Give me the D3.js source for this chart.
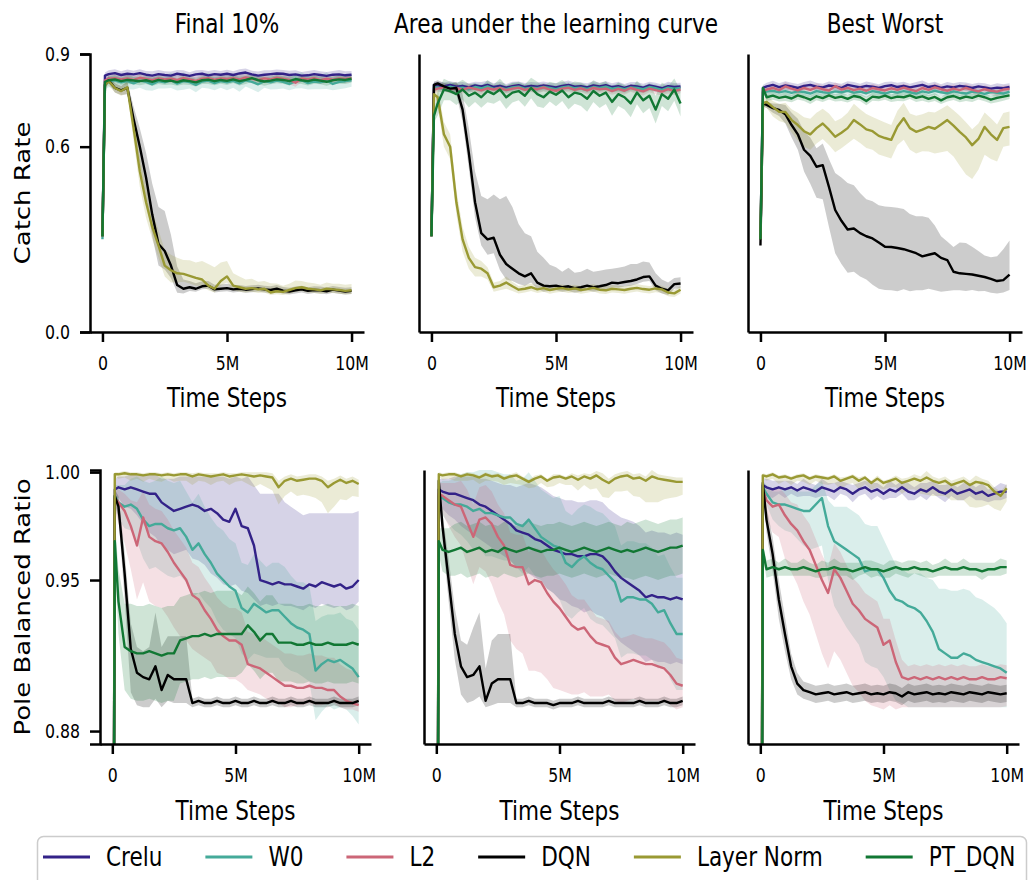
<!DOCTYPE html>
<html>
<head>
<meta charset="utf-8">
<script src="https://cdn.jsdelivr.net/npm/d3@7"></script>
<style>
  body { margin: 0; background: #fff; }
  svg { display: block; }
  text { font-family: "DejaVu Sans", sans-serif; fill: #000; }
</style>
</head>
<body>
<div id="chart"></div>
<script>
// time steps in millions (shared x grid)
const steps = [0, 0.1,
  0.25, 0.5, 0.75, 1, 1.25, 1.5, 1.75, 2, 2.25, 2.5,
  2.75, 3, 3.25, 3.5, 3.75, 4, 4.25, 4.5, 4.75, 5,
  5.25, 5.5, 5.75, 6, 6.25, 6.5, 6.75, 7, 7.25, 7.5,
  7.75, 8, 8.25, 8.5, 8.75, 9, 9.25, 9.5, 9.75, 10];

const methods = ["Crelu", "W0", "L2", "DQN", "Layer Norm", "PT_DQN"];
const columnTitles = ["Final 10%", "Area under the learning curve", "Best Worst"];
const metricLabels = ["Catch Rate", "Pole Balanced Ratio"];
const catchTicks = [0, 0.6, 0.9];
const poleTicks = [0.88, 0.95, 1.0];
const stepTicks = [0, 5, 10];
const stepTickLabels = ["0", "5M", "10M"];

// ---- Catch Rate, Final 10% ----
const catchFinalCrelu = [0.31, 0.83,
  0.835,0.838,0.832,0.836,0.834,0.838,0.833,0.830,0.835,0.832,
  0.830,0.836,0.833,0.829,0.834,0.836,0.831,0.835,0.833,0.836,
  0.832,0.837,0.840,0.834,0.830,0.833,0.835,0.837,0.836,0.832,
  0.834,0.830,0.831,0.835,0.832,0.829,0.833,0.834,0.831,0.833];
const catchFinalW0 = [0.30, 0.80,
  0.812,0.815,0.808,0.812,0.805,0.814,0.810,0.802,0.812,0.808,
  0.815,0.804,0.812,0.809,0.800,0.811,0.814,0.806,0.812,0.808,
  0.813,0.805,0.815,0.810,0.802,0.812,0.808,0.814,0.810,0.803,
  0.812,0.815,0.806,0.811,0.808,0.814,0.803,0.810,0.812,0.815];
const catchFinalL2 = [0.31, 0.815,
  0.820,0.822,0.818,0.821,0.816,0.823,0.819,0.815,0.821,0.818,
  0.820,0.816,0.822,0.818,0.813,0.820,0.822,0.817,0.821,0.819,
  0.822,0.818,0.824,0.820,0.816,0.821,0.818,0.823,0.820,0.816,
  0.807,0.821,0.818,0.822,0.815,0.820,0.817,0.821,0.819,0.822];
const catchFinalDqn = [0.31, 0.80,
  0.815,0.790,0.782,0.790,0.690,0.600,0.500,0.380,0.285,0.262,
  0.215,0.152,0.140,0.145,0.140,0.148,0.150,0.138,0.140,0.142,
  0.138,0.140,0.137,0.139,0.141,0.138,0.136,0.140,0.134,0.131,
  0.135,0.138,0.133,0.136,0.135,0.132,0.137,0.134,0.131,0.133];
const catchFinalLn = [0.31, 0.80,
  0.812,0.790,0.780,0.792,0.660,0.520,0.420,0.340,0.280,0.215,
  0.200,0.190,0.188,0.182,0.175,0.170,0.150,0.140,0.165,0.180,
  0.150,0.145,0.140,0.142,0.138,0.140,0.128,0.132,0.130,0.136,
  0.142,0.145,0.140,0.138,0.135,0.140,0.138,0.136,0.133,0.135];
const catchFinalPt = [0.31, 0.81,
  0.815,0.818,0.812,0.816,0.814,0.812,0.815,0.810,0.816,0.812,
  0.814,0.809,0.815,0.812,0.808,0.815,0.817,0.812,0.816,0.813,
  0.818,0.812,0.816,0.822,0.815,0.811,0.814,0.818,0.816,0.812,
  0.819,0.815,0.812,0.817,0.814,0.810,0.815,0.818,0.816,0.820];

// ---- Catch Rate, Area under the learning curve ----
const catchAucCrelu = [0.31, 0.80,
  0.798,0.795,0.800,0.794,0.797,0.792,0.798,0.795,0.800,0.793,
  0.797,0.791,0.796,0.799,0.793,0.797,0.794,0.798,0.795,0.792,
  0.797,0.800,0.794,0.796,0.792,0.798,0.795,0.799,0.793,0.796,
  0.790,0.797,0.795,0.791,0.798,0.794,0.789,0.796,0.793,0.795];
const catchAucW0 = [0.31, 0.79,
  0.792,0.788,0.794,0.789,0.791,0.786,0.793,0.789,0.795,0.787,
  0.791,0.786,0.792,0.794,0.788,0.791,0.789,0.793,0.790,0.786,
  0.792,0.795,0.789,0.791,0.787,0.793,0.790,0.794,0.788,0.791,
  0.786,0.792,0.790,0.786,0.793,0.789,0.784,0.791,0.788,0.790];
const catchAucL2 = [0.31, 0.785,
  0.788,0.792,0.786,0.790,0.784,0.791,0.787,0.782,0.789,0.785,
  0.790,0.783,0.788,0.791,0.784,0.789,0.786,0.792,0.785,0.781,
  0.788,0.791,0.784,0.789,0.782,0.790,0.786,0.788,0.780,0.787,
  0.781,0.790,0.784,0.779,0.788,0.783,0.778,0.786,0.780,0.785];
const catchAucDqn = [0.31, 0.80,
  0.805,0.795,0.788,0.790,0.720,0.580,0.420,0.320,0.300,0.305,
  0.250,0.220,0.205,0.190,0.180,0.190,0.160,0.150,0.148,0.150,
  0.145,0.148,0.142,0.145,0.150,0.145,0.148,0.152,0.160,0.158,
  0.162,0.165,0.170,0.178,0.180,0.150,0.140,0.135,0.155,0.157];
const catchAucLn = [0.31, 0.77,
  0.760,0.640,0.600,0.420,0.300,0.240,0.210,0.205,0.190,0.145,
  0.150,0.160,0.148,0.137,0.140,0.145,0.138,0.142,0.136,0.140,
  0.142,0.138,0.141,0.136,0.139,0.143,0.137,0.135,0.140,0.138,
  0.136,0.140,0.143,0.139,0.137,0.141,0.138,0.128,0.125,0.137];
const catchAucPt = [0.31, 0.70,
  0.740,0.785,0.780,0.770,0.785,0.765,0.775,0.760,0.780,0.770,
  0.785,0.760,0.775,0.780,0.765,0.790,0.770,0.760,0.778,0.768,
  0.782,0.760,0.775,0.770,0.755,0.780,0.765,0.775,0.745,0.770,
  0.760,0.740,0.775,0.750,0.765,0.720,0.770,0.755,0.785,0.740];

// ---- Catch Rate, Best Worst ----
const catchBestCrelu = [0.30, 0.79,
  0.795,0.800,0.793,0.798,0.795,0.790,0.797,0.800,0.794,0.792,
  0.798,0.795,0.790,0.800,0.796,0.792,0.797,0.794,0.790,0.796,
  0.799,0.793,0.797,0.792,0.796,0.800,0.793,0.797,0.790,0.795,
  0.792,0.797,0.794,0.790,0.795,0.792,0.788,0.791,0.789,0.793];
const catchBestW0 = [0.30, 0.775,
  0.778,0.781,0.776,0.780,0.774,0.779,0.777,0.772,0.780,0.776,
  0.774,0.779,0.776,0.781,0.775,0.778,0.773,0.780,0.776,0.772,
  0.778,0.775,0.780,0.776,0.772,0.779,0.775,0.781,0.776,0.773,
  0.779,0.775,0.772,0.778,0.776,0.771,0.777,0.774,0.772,0.778];
const catchBestL2 = [0.30, 0.78,
  0.785,0.790,0.783,0.795,0.788,0.782,0.790,0.784,0.792,0.786,
  0.782,0.796,0.785,0.790,0.783,0.788,0.781,0.790,0.786,0.782,
  0.789,0.784,0.791,0.785,0.780,0.790,0.784,0.792,0.786,0.781,
  0.788,0.783,0.790,0.784,0.779,0.786,0.781,0.778,0.785,0.787];
const catchBestDqn = [0.28, 0.74,
  0.735,0.725,0.719,0.705,0.670,0.640,0.590,0.570,0.535,0.540,
  0.470,0.395,0.360,0.332,0.335,0.320,0.310,0.303,0.290,0.276,
  0.275,0.272,0.268,0.262,0.255,0.245,0.250,0.255,0.240,0.233,
  0.195,0.190,0.188,0.186,0.182,0.178,0.172,0.165,0.168,0.186];
const catchBestLn = [0.30, 0.74,
  0.745,0.728,0.713,0.712,0.686,0.670,0.650,0.640,0.660,0.675,
  0.655,0.632,0.645,0.660,0.686,0.672,0.656,0.650,0.635,0.628,
  0.622,0.665,0.692,0.660,0.648,0.655,0.664,0.658,0.672,0.686,
  0.668,0.648,0.630,0.605,0.625,0.664,0.640,0.622,0.660,0.664];
const catchBestPt = [0.30, 0.79,
  0.760,0.765,0.758,0.762,0.756,0.766,0.760,0.752,0.763,0.757,
  0.766,0.758,0.762,0.755,0.764,0.760,0.748,0.762,0.759,0.765,
  0.757,0.762,0.760,0.766,0.758,0.763,0.755,0.761,0.750,0.760,
  0.764,0.756,0.762,0.758,0.765,0.760,0.752,0.758,0.762,0.766];

// ---- Catch Rate bands (distance below / above the mean) ----
const catchNarrowBand = [0.005, 0.01,
  0.012,0.013,0.012,0.014,0.012,0.013,0.012,0.014,0.013,0.012,
  0.013,0.012,0.014,0.012,0.013,0.012,0.014,0.013,0.012,0.013,
  0.012,0.014,0.013,0.012,0.013,0.014,0.012,0.013,0.012,0.014,
  0.013,0.012,0.014,0.013,0.012,0.013,0.012,0.014,0.013,0.012];
const catchWideBand = [0.005, 0.015,
  0.020,0.024,0.021,0.026,0.020,0.023,0.027,0.021,0.024,0.020,
  0.025,0.022,0.028,0.021,0.024,0.020,0.026,0.023,0.021,0.025,
  0.022,0.027,0.020,0.024,0.026,0.021,0.023,0.028,0.022,0.020,
  0.024,0.026,0.021,0.025,0.022,0.027,0.020,0.024,0.023,0.021];
const catchPtBand = [0.005, 0.02,
  0.040,0.035,0.030,0.035,0.032,0.038,0.030,0.034,0.036,0.031,
  0.035,0.038,0.032,0.030,0.036,0.033,0.040,0.035,0.032,0.037,
  0.034,0.040,0.036,0.038,0.042,0.035,0.040,0.037,0.045,0.038,
  0.040,0.045,0.038,0.042,0.040,0.045,0.038,0.040,0.036,0.042];
const catchFinalDqnDn = [0.005, 0.01,
  0.010,0.015,0.015,0.020,0.040,0.060,0.070,0.070,0.070,0.060,
  0.040,0.025,0.015,0.012,0.010,0.010,0.010,0.010,0.010,0.010,
  0.010,0.010,0.010,0.010,0.010,0.010,0.010,0.010,0.010,0.010,
  0.010,0.010,0.010,0.010,0.010,0.010,0.010,0.010,0.010,0.010];
const catchFinalDqnUp = [0.005, 0.01,
  0.012,0.015,0.015,0.020,0.040,0.060,0.080,0.100,0.120,0.130,
  0.100,0.060,0.030,0.020,0.018,0.016,0.015,0.015,0.014,0.014,
  0.013,0.012,0.012,0.012,0.012,0.012,0.012,0.012,0.012,0.012,
  0.012,0.012,0.012,0.012,0.012,0.012,0.012,0.012,0.012,0.012];
const catchFinalLnDn = [0.005, 0.01,
  0.015,0.015,0.015,0.020,0.040,0.050,0.050,0.040,0.040,0.035,
  0.040,0.030,0.025,0.025,0.025,0.020,0.015,0.012,0.015,0.020,
  0.015,0.015,0.012,0.012,0.012,0.012,0.008,0.010,0.010,0.012,
  0.012,0.012,0.012,0.012,0.012,0.012,0.012,0.012,0.012,0.012];
const catchFinalLnUp = [0.005, 0.01,
  0.015,0.015,0.015,0.020,0.040,0.050,0.050,0.050,0.050,0.050,
  0.050,0.050,0.045,0.050,0.050,0.060,0.070,0.070,0.060,0.050,
  0.040,0.035,0.030,0.030,0.025,0.025,0.030,0.025,0.020,0.020,
  0.025,0.020,0.020,0.020,0.018,0.020,0.018,0.020,0.020,0.020];
const catchAucDqnDn = [0.005, 0.01,
  0.010,0.012,0.015,0.020,0.040,0.050,0.050,0.040,0.050,0.050,
  0.050,0.050,0.040,0.035,0.030,0.030,0.020,0.020,0.015,0.015,
  0.015,0.015,0.015,0.015,0.015,0.015,0.015,0.015,0.015,0.015,
  0.015,0.015,0.015,0.015,0.015,0.015,0.015,0.015,0.015,0.015];
const catchAucDqnUp = [0.005, 0.01,
  0.010,0.012,0.015,0.020,0.050,0.080,0.100,0.120,0.130,0.140,
  0.180,0.220,0.200,0.160,0.140,0.120,0.100,0.090,0.070,0.060,
  0.050,0.060,0.050,0.050,0.055,0.050,0.050,0.050,0.045,0.050,
  0.050,0.055,0.050,0.050,0.045,0.040,0.030,0.025,0.020,0.020];
const catchAucLnBand = [0.005, 0.01,
  0.030,0.040,0.040,0.040,0.040,0.035,0.030,0.025,0.020,0.015,
  0.015,0.020,0.015,0.012,0.012,0.012,0.012,0.012,0.012,0.012,
  0.012,0.012,0.012,0.012,0.012,0.012,0.012,0.012,0.012,0.012,
  0.012,0.012,0.012,0.012,0.012,0.012,0.012,0.012,0.012,0.012];
const catchBestLnDn = [0.005, 0.01,
  0.020,0.030,0.030,0.035,0.040,0.050,0.050,0.050,0.050,0.050,
  0.050,0.050,0.050,0.050,0.060,0.060,0.060,0.060,0.060,0.060,
  0.060,0.060,0.070,0.070,0.070,0.070,0.080,0.080,0.090,0.100,
  0.100,0.110,0.120,0.110,0.100,0.090,0.080,0.070,0.060,0.060];
const catchBestLnUp = [0.005, 0.01,
  0.020,0.020,0.025,0.030,0.035,0.040,0.045,0.050,0.050,0.048,
  0.052,0.050,0.047,0.050,0.053,0.049,0.050,0.046,0.052,0.050,
  0.048,0.051,0.050,0.047,0.052,0.050,0.049,0.053,0.050,0.048,
  0.050,0.052,0.049,0.051,0.050,0.047,0.052,0.050,0.049,0.050];
const catchBestDqnDn = [0.005, 0.01,
  0.010,0.015,0.020,0.030,0.040,0.050,0.070,0.090,0.100,0.110,
  0.130,0.140,0.140,0.140,0.140,0.140,0.140,0.150,0.150,0.140,
  0.140,0.140,0.130,0.130,0.120,0.110,0.110,0.120,0.110,0.100,
  0.060,0.055,0.055,0.050,0.050,0.045,0.045,0.040,0.040,0.050];
const catchBestDqnUp = [0.005, 0.01,
  0.010,0.015,0.020,0.030,0.040,0.050,0.060,0.060,0.060,0.070,
  0.090,0.120,0.140,0.150,0.140,0.130,0.120,0.120,0.120,0.130,
  0.130,0.130,0.130,0.120,0.120,0.130,0.120,0.090,0.070,0.060,
  0.080,0.100,0.100,0.090,0.080,0.070,0.070,0.080,0.100,0.110];

// ---- Pole Balanced Ratio, Final 10% ----
const poleFinalCrelu = [0.6, 0.992,
  0.993,0.992,0.993,0.992,0.991,0.990,0.990,0.986,0.984,0.982,
  0.983,0.984,0.985,0.984,0.982,0.983,0.981,0.978,0.977,0.983,
  0.975,0.974,0.966,0.950,0.949,0.948,0.949,0.948,0.948,0.947,
  0.946,0.948,0.947,0.949,0.948,0.947,0.948,0.946,0.947,0.950];
const poleFinalW0 = [0.6, 0.989,
  0.986,0.984,0.985,0.983,0.978,0.975,0.976,0.976,0.974,0.973,
  0.974,0.970,0.964,0.967,0.962,0.958,0.953,0.950,0.947,0.945,
  0.937,0.935,0.939,0.937,0.935,0.936,0.936,0.933,0.930,0.928,
  0.927,0.925,0.908,0.911,0.913,0.912,0.913,0.911,0.909,0.905];
const poleFinalL2 = [0.6, 0.988,
  0.986,0.982,0.975,0.966,0.979,0.970,0.968,0.967,0.963,0.958,
  0.954,0.950,0.943,0.941,0.936,0.932,0.927,0.924,0.922,0.922,
  0.920,0.911,0.910,0.909,0.907,0.905,0.903,0.901,0.901,0.900,
  0.900,0.901,0.900,0.900,0.899,0.899,0.896,0.894,0.893,0.892];
const poleFinalDqn = [0.6, 0.989,
  0.984,0.953,0.918,0.907,0.905,0.904,0.910,0.899,0.906,0.904,
  0.904,0.904,0.893,0.894,0.893,0.893,0.894,0.893,0.893,0.894,
  0.893,0.893,0.894,0.893,0.893,0.894,0.893,0.893,0.894,0.893,
  0.893,0.894,0.893,0.893,0.893,0.894,0.893,0.893,0.893,0.894];
const poleFinalLn = [0.6, 0.999,
  0.999,0.9995,0.999,0.999,0.9985,0.999,0.999,0.9985,0.999,0.9985,
  0.999,0.999,0.998,0.999,0.9985,0.998,0.9985,0.999,0.998,0.9985,
  0.999,0.9985,0.998,0.9985,0.998,0.9975,0.993,0.996,0.997,0.996,
  0.9965,0.997,0.997,0.996,0.993,0.995,0.9965,0.995,0.996,0.9945];
const poleFinalPt = [0.6, 0.968,
  0.940,0.919,0.917,0.916,0.916,0.917,0.916,0.915,0.916,0.916,
  0.922,0.923,0.924,0.924,0.925,0.924,0.925,0.925,0.925,0.925,
  0.925,0.929,0.926,0.922,0.925,0.925,0.921,0.921,0.921,0.920,
  0.920,0.921,0.920,0.920,0.921,0.920,0.920,0.920,0.921,0.920];

// ---- Pole Balanced Ratio, Area under the learning curve ----
const poleAucCrelu = [0.6, 0.992,
  0.991,0.990,0.990,0.989,0.988,0.987,0.985,0.984,0.982,0.980,
  0.978,0.976,0.973,0.972,0.971,0.969,0.968,0.966,0.964,0.963,
  0.962,0.962,0.961,0.961,0.962,0.962,0.961,0.958,0.954,0.951,
  0.949,0.947,0.945,0.942,0.943,0.942,0.942,0.941,0.942,0.941];
const poleAucW0 = [0.6, 0.989,
  0.988,0.986,0.985,0.985,0.984,0.982,0.983,0.981,0.981,0.980,
  0.979,0.979,0.976,0.975,0.978,0.974,0.970,0.968,0.966,0.965,
  0.958,0.956,0.959,0.961,0.958,0.956,0.955,0.952,0.949,0.940,
  0.942,0.942,0.941,0.941,0.939,0.935,0.936,0.930,0.925,0.925];
const poleAucL2 = [0.6, 0.990,
  0.989,0.987,0.985,0.984,0.977,0.970,0.978,0.979,0.976,0.970,
  0.966,0.957,0.956,0.956,0.948,0.950,0.949,0.944,0.940,0.937,
  0.933,0.929,0.927,0.928,0.924,0.921,0.920,0.919,0.914,0.911,
  0.912,0.913,0.912,0.911,0.911,0.910,0.909,0.906,0.902,0.901];
const poleAucDqn = [0.6, 0.996,
  0.975,0.950,0.925,0.910,0.905,0.906,0.910,0.894,0.902,0.904,
  0.904,0.904,0.893,0.893,0.894,0.893,0.893,0.893,0.892,0.893,
  0.893,0.893,0.894,0.893,0.893,0.893,0.893,0.894,0.893,0.893,
  0.893,0.893,0.894,0.893,0.893,0.893,0.894,0.893,0.893,0.894];
const poleAucLn = [0.6, 0.999,
  0.9985,0.999,0.999,0.998,0.999,0.9985,0.9975,0.999,0.998,0.9985,
  0.997,0.998,0.9985,0.997,0.9955,0.997,0.998,0.996,0.9975,0.998,
  0.997,0.998,0.9965,0.998,0.997,0.9985,0.9965,0.995,0.997,0.998,
  0.9985,0.997,0.9975,0.996,0.998,0.997,0.9965,0.996,0.9955,0.9955];
const poleAucPt = [0.6, 0.968,
  0.964,0.963,0.964,0.965,0.963,0.964,0.965,0.963,0.964,0.963,
  0.965,0.964,0.963,0.964,0.965,0.964,0.963,0.964,0.964,0.965,
  0.964,0.963,0.964,0.965,0.964,0.963,0.964,0.965,0.964,0.963,
  0.964,0.963,0.964,0.965,0.964,0.963,0.964,0.965,0.965,0.966];

// ---- Pole Balanced Ratio, Best Worst ----
const poleBestCrelu = [0.6, 0.994,
  0.993,0.992,0.993,0.992,0.993,0.9915,0.993,0.992,0.991,0.993,
  0.992,0.991,0.993,0.992,0.990,0.992,0.993,0.991,0.992,0.990,
  0.992,0.991,0.993,0.991,0.990,0.992,0.991,0.993,0.991,0.990,
  0.992,0.990,0.991,0.992,0.990,0.991,0.989,0.990,0.991,0.991];
const poleBestW0 = [0.6, 0.993,
  0.990,0.986,0.985,0.985,0.984,0.983,0.982,0.982,0.985,0.988,
  0.975,0.968,0.966,0.964,0.962,0.960,0.954,0.955,0.955,0.951,
  0.945,0.941,0.940,0.938,0.937,0.935,0.931,0.926,0.918,0.916,
  0.914,0.914,0.916,0.915,0.913,0.912,0.911,0.910,0.909,0.907];
const poleBestL2 = [0.6, 0.992,
  0.987,0.984,0.985,0.980,0.976,0.973,0.968,0.964,0.957,0.950,
  0.944,0.955,0.951,0.945,0.939,0.936,0.932,0.930,0.928,0.920,
  0.922,0.912,0.905,0.904,0.905,0.904,0.905,0.904,0.905,0.904,
  0.905,0.904,0.905,0.904,0.904,0.905,0.904,0.904,0.905,0.9045];
const poleBestDqn = [0.6, 0.995,
  0.978,0.962,0.941,0.925,0.910,0.902,0.899,0.898,0.897,0.8975,
  0.898,0.897,0.8975,0.898,0.897,0.8975,0.898,0.897,0.8975,0.897,
  0.898,0.8975,0.896,0.898,0.897,0.8975,0.898,0.897,0.8975,0.897,
  0.898,0.8975,0.897,0.898,0.8975,0.897,0.898,0.8975,0.897,0.8975];
const poleBestLn = [0.6, 0.9985,
  0.998,0.999,0.9975,0.998,0.997,0.998,0.9985,0.997,0.998,0.9975,
  0.997,0.998,0.996,0.997,0.998,0.996,0.9975,0.995,0.997,0.995,
  0.996,0.997,0.995,0.996,0.997,0.996,0.9975,0.996,0.995,0.996,
  0.994,0.995,0.996,0.994,0.9955,0.995,0.994,0.991,0.989,0.9925];
const poleBestPt = [0.5, 0.964,
  0.955,0.956,0.955,0.956,0.955,0.955,0.956,0.955,0.954,0.955,
  0.955,0.956,0.955,0.955,0.954,0.955,0.956,0.955,0.955,0.954,
  0.955,0.956,0.955,0.955,0.956,0.955,0.955,0.954,0.955,0.956,
  0.955,0.955,0.956,0.955,0.955,0.954,0.955,0.955,0.956,0.956];

// ---- Pole Balanced Ratio bands (distance below / above the mean) ----
const poleTightBand = [0.005, 0.003,
  0.004,0.004,0.003,0.004,0.003,0.003,0.004,0.003,0.003,0.004,
  0.003,0.004,0.003,0.003,0.004,0.003,0.003,0.004,0.003,0.003,
  0.004,0.003,0.003,0.004,0.003,0.003,0.004,0.003,0.003,0.004,
  0.003,0.003,0.004,0.003,0.003,0.004,0.003,0.003,0.004,0.003];
const poleLnDn = [0.005, 0.001,
  0.002,0.002,0.003,0.002,0.003,0.002,0.003,0.003,0.002,0.003,
  0.003,0.003,0.004,0.003,0.003,0.004,0.003,0.003,0.004,0.003,
  0.003,0.004,0.005,0.004,0.005,0.006,0.008,0.007,0.006,0.007,
  0.007,0.008,0.009,0.010,0.012,0.011,0.009,0.008,0.007,0.006];
const poleLnUp = [0.001, 0.001,
  0.001,0.001,0.001,0.001,0.001,0.001,0.001,0.001,0.001,0.001,
  0.001,0.001,0.0015,0.001,0.001,0.0015,0.001,0.001,0.0015,0.001,
  0.001,0.0015,0.002,0.0015,0.002,0.002,0.003,0.002,0.002,0.002,
  0.002,0.002,0.002,0.002,0.003,0.002,0.002,0.002,0.002,0.002];
const poleFinalCreluDn = [0.05, 0.005,
  0.005,0.008,0.010,0.012,0.015,0.018,0.020,0.020,0.020,0.020,
  0.020,0.020,0.025,0.025,0.025,0.030,0.030,0.030,0.030,0.035,
  0.030,0.030,0.025,0.012,0.010,0.010,0.010,0.010,0.010,0.010,
  0.010,0.010,0.010,0.010,0.010,0.010,0.010,0.010,0.010,0.010];
const poleFinalCreluUp = [0.005, 0.005,
  0.005,0.006,0.006,0.007,0.008,0.009,0.009,0.011,0.013,0.015,
  0.015,0.014,0.013,0.014,0.016,0.015,0.017,0.020,0.020,0.015,
  0.022,0.024,0.028,0.040,0.041,0.042,0.041,0.038,0.036,0.035,
  0.034,0.033,0.034,0.032,0.033,0.034,0.033,0.035,0.034,0.032];
const poleFinalW0Band = [0.005, 0.005,
  0.008,0.010,0.012,0.015,0.018,0.020,0.020,0.022,0.022,0.022,
  0.022,0.021,0.022,0.023,0.022,0.021,0.022,0.023,0.022,0.022,
  0.021,0.022,0.023,0.022,0.021,0.022,0.022,0.023,0.022,0.021,
  0.022,0.022,0.023,0.022,0.021,0.022,0.022,0.021,0.022,0.022];
const poleFinalL2Dn = [0.005, 0.005,
  0.010,0.015,0.020,0.025,0.030,0.030,0.030,0.030,0.030,0.030,
  0.030,0.028,0.025,0.025,0.022,0.020,0.020,0.018,0.018,0.018,
  0.018,0.012,0.012,0.012,0.012,0.012,0.010,0.010,0.010,0.008,
  0.008,0.008,0.008,0.008,0.006,0.006,0.005,0.004,0.003,0.003];
const poleFinalL2Up = [0.005, 0.005,
  0.006,0.008,0.012,0.020,0.012,0.015,0.015,0.015,0.015,0.015,
  0.015,0.015,0.015,0.015,0.015,0.015,0.015,0.015,0.015,0.015,
  0.015,0.015,0.015,0.015,0.015,0.015,0.015,0.015,0.015,0.015,
  0.015,0.015,0.015,0.015,0.015,0.015,0.015,0.015,0.015,0.015];
const poleFinalDqnDn = [0.005, 0.003,
  0.005,0.012,0.020,0.015,0.014,0.013,0.015,0.008,0.012,0.011,
  0.011,0.011,0.002,0.002,0.002,0.002,0.002,0.002,0.002,0.002,
  0.002,0.002,0.002,0.002,0.002,0.002,0.002,0.002,0.002,0.002,
  0.002,0.002,0.002,0.002,0.002,0.002,0.002,0.002,0.002,0.002];
const poleFinalDqnUp = [0.005, 0.003,
  0.005,0.010,0.012,0.012,0.012,0.015,0.025,0.020,0.018,0.020,
  0.020,0.020,0.002,0.002,0.002,0.002,0.002,0.002,0.002,0.002,
  0.002,0.002,0.002,0.002,0.002,0.002,0.002,0.002,0.002,0.002,
  0.002,0.002,0.002,0.002,0.002,0.002,0.002,0.002,0.002,0.002];
const poleFinalPtBand = [0.005, 0.01,
  0.015,0.020,0.022,0.022,0.022,0.022,0.022,0.022,0.022,0.022,
  0.020,0.020,0.020,0.020,0.020,0.020,0.020,0.020,0.020,0.020,
  0.018,0.018,0.018,0.018,0.018,0.018,0.018,0.018,0.018,0.018,
  0.018,0.018,0.018,0.018,0.018,0.018,0.018,0.018,0.018,0.018];
const poleAucCreluDn = [0.005, 0.005,
  0.008,0.010,0.012,0.014,0.015,0.016,0.016,0.017,0.017,0.017,
  0.017,0.017,0.017,0.017,0.018,0.018,0.018,0.020,0.020,0.022,
  0.022,0.024,0.024,0.026,0.026,0.028,0.028,0.028,0.030,0.030,
  0.030,0.030,0.030,0.030,0.030,0.030,0.030,0.030,0.030,0.030];
const poleAucCreluUp = [0.005, 0.005,
  0.006,0.007,0.008,0.009,0.010,0.011,0.012,0.013,0.014,0.015,
  0.016,0.018,0.020,0.022,0.024,0.025,0.025,0.025,0.025,0.025,
  0.025,0.025,0.025,0.025,0.025,0.025,0.025,0.025,0.027,0.028,
  0.029,0.030,0.030,0.030,0.030,0.030,0.030,0.030,0.030,0.030];
const poleAucW0Band = [0.005, 0.005,
  0.008,0.010,0.012,0.014,0.016,0.018,0.018,0.020,0.020,0.020,
  0.020,0.020,0.020,0.022,0.022,0.022,0.022,0.022,0.022,0.024,
  0.024,0.024,0.024,0.024,0.026,0.026,0.026,0.026,0.026,0.026,
  0.026,0.026,0.026,0.026,0.026,0.026,0.026,0.026,0.026,0.026];
const poleAucL2Dn = [0.005, 0.005,
  0.008,0.012,0.015,0.018,0.020,0.022,0.022,0.025,0.028,0.030,
  0.032,0.035,0.038,0.040,0.040,0.042,0.042,0.040,0.040,0.038,
  0.035,0.032,0.030,0.030,0.028,0.025,0.024,0.022,0.020,0.018,
  0.018,0.018,0.018,0.017,0.017,0.016,0.015,0.014,0.012,0.010];
const poleAucL2Up = [0.005, 0.005,
  0.006,0.008,0.010,0.012,0.015,0.015,0.015,0.015,0.015,0.015,
  0.015,0.015,0.015,0.015,0.015,0.015,0.015,0.015,0.015,0.015,
  0.015,0.014,0.014,0.013,0.013,0.012,0.012,0.012,0.012,0.012,
  0.012,0.012,0.012,0.012,0.012,0.012,0.012,0.012,0.012,0.012];
const poleAucDqnDn = [0.005, 0.003,
  0.006,0.010,0.012,0.013,0.012,0.012,0.014,0.003,0.010,0.011,
  0.011,0.011,0.002,0.002,0.002,0.002,0.002,0.002,0.002,0.002,
  0.002,0.002,0.002,0.002,0.002,0.002,0.002,0.002,0.002,0.002,
  0.002,0.002,0.002,0.002,0.002,0.002,0.002,0.002,0.002,0.002];
const poleAucDqnUp = [0.005, 0.003,
  0.006,0.010,0.012,0.012,0.015,0.022,0.025,0.015,0.020,0.021,
  0.021,0.021,0.002,0.002,0.002,0.002,0.002,0.002,0.002,0.002,
  0.002,0.002,0.002,0.002,0.002,0.002,0.002,0.002,0.002,0.002,
  0.002,0.002,0.002,0.002,0.002,0.002,0.002,0.002,0.002,0.002];
const poleAucPtBand = [0.005, 0.006,
  0.010,0.011,0.012,0.012,0.012,0.012,0.012,0.012,0.012,0.012,
  0.012,0.012,0.012,0.012,0.012,0.012,0.012,0.012,0.012,0.012,
  0.012,0.012,0.012,0.012,0.012,0.012,0.012,0.012,0.012,0.012,
  0.013,0.013,0.013,0.013,0.013,0.013,0.013,0.013,0.013,0.013];
const poleBestW0Dn = [0.005, 0.003,
  0.005,0.008,0.010,0.012,0.012,0.014,0.016,0.018,0.020,0.022,
  0.025,0.030,0.033,0.036,0.038,0.040,0.042,0.045,0.046,0.046,
  0.046,0.047,0.047,0.047,0.046,0.044,0.040,0.035,0.027,0.025,
  0.023,0.023,0.025,0.024,0.022,0.021,0.020,0.019,0.018,0.016];
const poleBestW0Up = [0.005, 0.003,
  0.004,0.005,0.006,0.007,0.008,0.008,0.009,0.009,0.009,0.008,
  0.012,0.016,0.018,0.020,0.020,0.020,0.022,0.020,0.020,0.018,
  0.018,0.016,0.015,0.015,0.016,0.018,0.020,0.024,0.028,0.030,
  0.031,0.031,0.030,0.030,0.029,0.029,0.028,0.027,0.025,0.023];
const poleBestL2Dn = [0.005, 0.003,
  0.008,0.012,0.015,0.020,0.022,0.025,0.028,0.030,0.032,0.034,
  0.035,0.038,0.038,0.038,0.038,0.038,0.038,0.038,0.037,0.030,
  0.030,0.022,0.014,0.013,0.014,0.013,0.014,0.013,0.014,0.013,
  0.014,0.013,0.014,0.013,0.013,0.014,0.013,0.013,0.014,0.013];
const poleBestL2Up = [0.005, 0.003,
  0.005,0.008,0.008,0.010,0.010,0.012,0.012,0.012,0.012,0.012,
  0.012,0.012,0.012,0.012,0.012,0.012,0.012,0.012,0.012,0.012,
  0.010,0.010,0.008,0.006,0.006,0.006,0.006,0.006,0.006,0.006,
  0.006,0.006,0.006,0.006,0.006,0.006,0.006,0.006,0.006,0.006];
const poleBestDqnBand = [0.005, 0.003,
  0.006,0.008,0.009,0.008,0.006,0.005,0.004,0.004,0.004,0.004,
  0.004,0.004,0.004,0.004,0.004,0.004,0.004,0.004,0.004,0.004,
  0.004,0.004,0.004,0.004,0.004,0.004,0.004,0.004,0.004,0.004,
  0.004,0.004,0.004,0.004,0.004,0.004,0.004,0.004,0.004,0.004];

const palette = ["#332288", "#44AA99", "#CC6677", "#000000", "#999933", "#117733"];

// [mean, below, above] for every method, by row (metric) and column (summary)
const panels = [
  [
    [[catchFinalCrelu, catchNarrowBand, catchNarrowBand],
     [catchFinalW0, catchWideBand, catchWideBand],
     [catchFinalL2, catchNarrowBand, catchNarrowBand],
     [catchFinalDqn, catchFinalDqnDn, catchFinalDqnUp],
     [catchFinalLn, catchFinalLnDn, catchFinalLnUp],
     [catchFinalPt, catchNarrowBand, catchNarrowBand]],
    [[catchAucCrelu, catchNarrowBand, catchNarrowBand],
     [catchAucW0, catchNarrowBand, catchNarrowBand],
     [catchAucL2, catchNarrowBand, catchNarrowBand],
     [catchAucDqn, catchAucDqnDn, catchAucDqnUp],
     [catchAucLn, catchAucLnBand, catchAucLnBand],
     [catchAucPt, catchPtBand, catchPtBand]],
    [[catchBestCrelu, catchNarrowBand, catchNarrowBand],
     [catchBestW0, catchNarrowBand, catchNarrowBand],
     [catchBestL2, catchNarrowBand, catchNarrowBand],
     [catchBestDqn, catchBestDqnDn, catchBestDqnUp],
     [catchBestLn, catchBestLnDn, catchBestLnUp],
     [catchBestPt, catchNarrowBand, catchNarrowBand]]
  ],
  [
    [[poleFinalCrelu, poleFinalCreluDn, poleFinalCreluUp],
     [poleFinalW0, poleFinalW0Band, poleFinalW0Band],
     [poleFinalL2, poleFinalL2Dn, poleFinalL2Up],
     [poleFinalDqn, poleFinalDqnDn, poleFinalDqnUp],
     [poleFinalLn, poleLnDn, poleLnUp],
     [poleFinalPt, poleFinalPtBand, poleFinalPtBand]],
    [[poleAucCrelu, poleAucCreluDn, poleAucCreluUp],
     [poleAucW0, poleAucW0Band, poleAucW0Band],
     [poleAucL2, poleAucL2Dn, poleAucL2Up],
     [poleAucDqn, poleAucDqnDn, poleAucDqnUp],
     [poleAucLn, poleLnDn, poleLnUp],
     [poleAucPt, poleAucPtBand, poleAucPtBand]],
    [[poleBestCrelu, poleTightBand, poleTightBand],
     [poleBestW0, poleBestW0Dn, poleBestW0Up],
     [poleBestL2, poleBestL2Dn, poleBestL2Up],
     [poleBestDqn, poleBestDqnBand, poleBestDqnBand],
     [poleBestLn, poleLnDn, poleLnUp],
     [poleBestPt, poleTightBand, poleTightBand]]
  ]
];

// layout
const W = 1029, H = 880;
const squeeze = 0.83; // text in the figure is horizontally compressed
const rowLayout = [
  {top: 54, bottom: 332, lefts: [90, 419, 748], width: 274, domain: [0, 0.9],
   ticks: catchTicks, fmt: d3.format(".1f"), xlabelY: 407},
  {top: 470, bottom: 744, lefts: [100, 424, 748], width: 271, domain: [0.874, 1.001],
   ticks: poleTicks, fmt: d3.format(".2f"), xlabelY: 820}
];

const svg = d3.select("#chart").append("svg")
  .attr("width", W).attr("height", H);

function label(parent, x, y, str, size, anchor, rotate) {
  return parent.append("text")
    .attr("transform", `translate(${x},${y}) scale(${squeeze},1)` + (rotate ? ` rotate(${rotate})` : ""))
    .attr("text-anchor", anchor)
    .attr("font-size", size)
    .text(str);
}

panels.forEach((row, r) => {
  const L = rowLayout[r];
  row.forEach((series, c) => {
    const left = L.lefts[c];
    const x = d3.scaleLinear().domain([-0.5, 10.5]).range([left, left + L.width]);
    const y = d3.scaleLinear().domain(L.domain).range([L.bottom, L.top]);

    const clipId = `clip-${r}-${c}`;
    svg.append("clipPath").attr("id", clipId)
      .append("rect")
      .attr("x", left).attr("y", L.top)
      .attr("width", L.width).attr("height", L.bottom - L.top);

    const plot = svg.append("g").attr("clip-path", `url(#${clipId})`);
    const rows = series.map(([mean, dn, up]) =>
      steps.map((s, i) => ({s, m: mean[i], lo: mean[i] - dn[i], hi: mean[i] + up[i]})));

    const area = d3.area().x(d => x(d.s)).y0(d => y(d.lo)).y1(d => y(d.hi));
    const line = d3.line().x(d => x(d.s)).y(d => y(d.m));

    // bands below, lines on top (like matplotlib zorder)
    plot.selectAll("path.band").data(rows).join("path")
      .attr("class", "band")
      .attr("d", area)
      .attr("fill", (d, k) => palette[k])
      .attr("fill-opacity", 0.2);
    plot.selectAll("path.mean").data(rows).join("path")
      .attr("class", "mean")
      .attr("d", line)
      .attr("fill", "none")
      .attr("stroke", (d, k) => palette[k])
      .attr("stroke-width", 2.4)
      .attr("stroke-linejoin", "round");

    // x axis
    const gx = svg.append("g")
      .attr("transform", `translate(0,${L.bottom})`)
      .call(d3.axisBottom(x).tickValues(stepTicks)
        .tickFormat((d, i) => stepTickLabels[i])
        .tickSize(10).tickPadding(15).tickSizeOuter(0));
    gx.selectAll("text").attr("font-size", 19).attr("transform", `scale(${squeeze},1)`)
      .style("font-family", '"DejaVu Sans", sans-serif');

    // y axis
    const yAxis = d3.axisLeft(y).tickSizeOuter(0);
    if (c === 0) {
      yAxis.tickValues(L.ticks).tickFormat(L.fmt).tickSize(10).tickPadding(10);
    } else {
      yAxis.tickValues([]);
    }
    const gy = svg.append("g")
      .attr("transform", `translate(${left},0)`)
      .call(yAxis);
    gy.selectAll("text").attr("font-size", 19)
      .attr("x", -20 / squeeze)
      .attr("transform", `scale(${squeeze},1)`)
      .style("font-family", '"DejaVu Sans", sans-serif');

    [gx, gy].forEach(g => {
      g.selectAll("path.domain").attr("stroke", "#000").attr("stroke-width", 2.5);
      g.selectAll(".tick line").attr("stroke", "#000").attr("stroke-width", 2.5);
    });

    // x label
    label(svg, left + L.width / 2, L.xlabelY, "Time Steps", 26, "middle");
    // column titles on the top row
    if (r === 0) label(svg, left + L.width / 2, 33, columnTitles[c], 26, "middle");
    // y label on the left column
    if (c === 0) label(svg, 30, (L.top + L.bottom) / 2, metricLabels[r], 26, "middle", -90);
  });
});

// legend
const legend = svg.append("g");
legend.append("rect")
  .attr("x", 37.5).attr("y", 836.5)
  .attr("width", 989).attr("height", 60)
  .attr("rx", 6)
  .attr("fill", "#fff")
  .attr("stroke", "#cccccc")
  .attr("stroke-width", 1.5);
let cursor = 43;
methods.forEach((m, k) => {
  legend.append("line")
    .attr("x1", cursor).attr("x2", cursor + 47)
    .attr("y1", 857).attr("y2", 857)
    .attr("stroke", palette[k]).attr("stroke-width", 3);
  const t = label(legend, cursor + 63, 866, m, 26, "start");
  cursor += 63 + t.node().getComputedTextLength() * squeeze + 43;
});
</script>
</body>
</html>
